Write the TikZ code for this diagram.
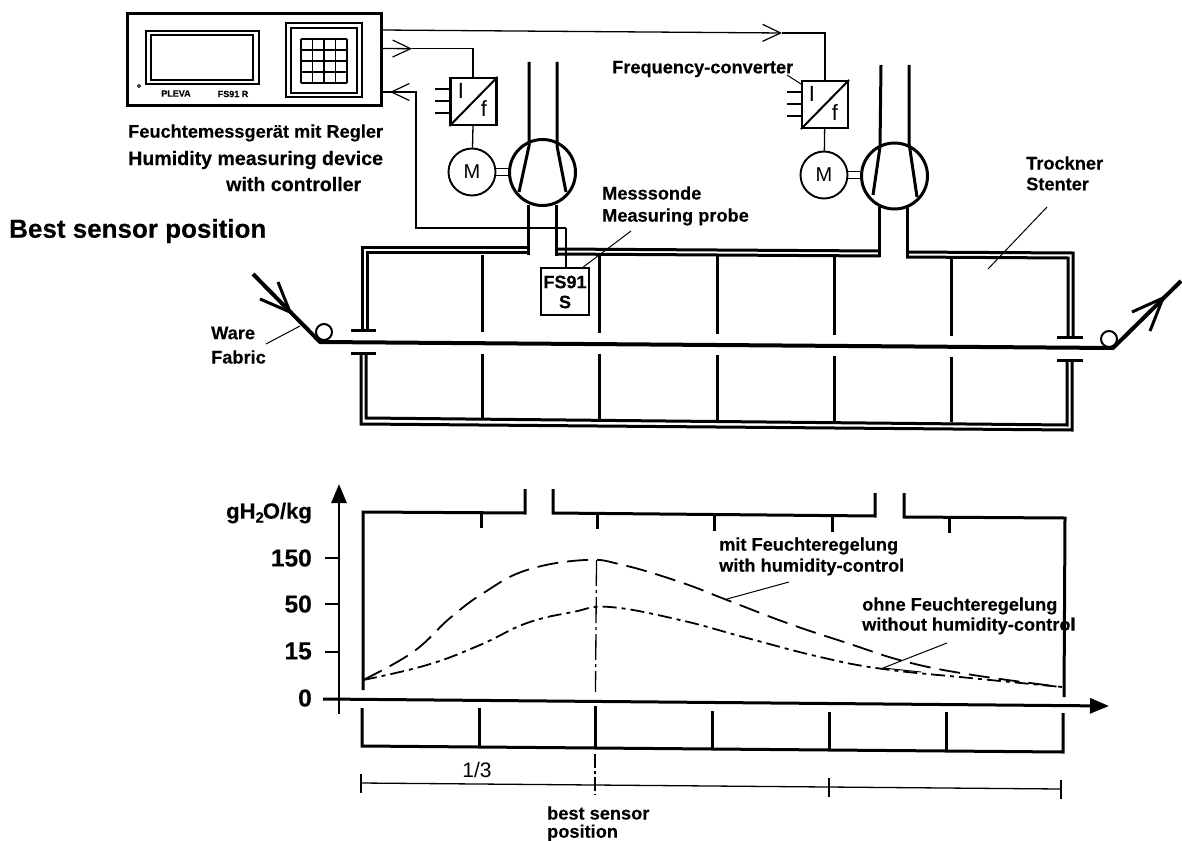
\documentclass[tikz,border=0pt]{standalone}
\usepackage{fontspec}
\setmainfont[BoldFeatures={FakeBold=0.25}]{Liberation Sans}
\usetikzlibrary{arrows.meta}
\tikzset{
  lab/.style={inner sep=0pt,anchor=west,font=\fontsize{18.2}{20}\selectfont\bfseries},
  labw/.style={inner sep=0pt,anchor=west,font=\fontsize{19.6}{21}\selectfont\bfseries},
  tiny/.style={inner sep=0pt,font=\fontsize{9}{10}\selectfont\bfseries},
  axlab/.style={inner sep=0pt,anchor=east,font=\fontsize{24.5}{26}\selectfont\bfseries},
  thin line/.style={line width=1.3pt},
  leader/.style={line width=1pt},
  wall/.style={line width=3pt},
  heavy/.style={line width=3pt},
  prof/.style={line width=3pt},
  signal/.style={line width=1.3pt,-{Straight Barb[length=18pt,width=17pt,line width=1.2pt]}},
  conv/.style={draw,line width=2.2pt,minimum width=46pt,minimum height=47pt,inner sep=0pt},
  motor/.style={draw,circle,line width=1.9pt,minimum size=47pt,inner sep=0pt,font=\fontsize{20}{22}\selectfont},
  fan/.style={draw,circle,line width=3pt,minimum size=66pt,inner sep=0pt},
  letter/.style={inner sep=0pt,font=\fontsize{22}{24}\selectfont},
  axis tip/.style={-{Triangle[length=19pt,width=15pt]}},
  ctrlcurve/.style={line width=1.8pt,dash pattern=on 21pt off 9pt},
  freecurve/.style={line width=1.8pt,dash pattern=on 14pt off 5pt on 4pt off 5pt},
}
\begin{document}
\begin{tikzpicture}[x=1pt,y=-1pt,line cap=butt]
\useasboundingbox (0,0) rectangle (1182,840);
% ---- device
\node[draw,line width=3pt,minimum width=254pt,minimum height=92pt,inner sep=0pt] (dev) at (254,60) {};
\node[draw,line width=1.3pt,minimum width=113pt,minimum height=53pt,inner sep=0pt] (dispo) at (202.5,57.5) {};
\node[draw,line width=1.3pt,minimum width=102pt,minimum height=45pt,inner sep=0pt] (dispi) at (202,57.5) {};
\node[draw,line width=1.2pt,minimum width=76pt,minimum height=74pt,inner sep=0pt] (keyo) at (324,60) {};
\node[draw,line width=1.5pt,minimum width=66pt,minimum height=65pt,inner sep=0pt] (keyi) at (324,60.5) {};
\foreach \x in {301,312.5,324,335.5,347} \draw[line width=1.2pt] (\x,39) -- (\x,83);
\foreach \y in {39,50,61,72,83} \draw[line width=1.2pt] (301,\y) -- (347,\y);
\node[draw,circle,line width=1pt,minimum size=3pt,inner sep=0pt] (led) at (139,86) {};
\node[tiny] (pleva) at (176,93.5) {PLEVA};
\node[tiny] (fsr) at (233,94) {FS91 R};
\node[lab] (t1) at (128,133) {Feuchtemessgerät mit Regler};
\node[labw] (t2) at (128,160) {Humidity measuring device};
\node[labw] (t3) at (226,184) {with controller};
\node[inner sep=0pt,anchor=west,font=\fontsize{26}{28}\selectfont\bfseries] (best) at (9,231) {Best sensor position};
% ---- converters, motors, fans
\node[conv] (c1) at (473.5,101.5) {};
\node[conv] (c2) at (825,104.5) {};
\draw[line width=2pt] (c1.south west) -- (c1.north east);
\draw[line width=2pt] (c2.south west) -- (c2.north east);
\node[letter] (i1) at (461,91) {I};
\node[letter] (f1) at (484,109) {f};
\node[letter] (i2) at (812,94) {I};
\node[letter] (f2) at (835,113) {f};
\foreach \y in {89,101,113} \draw[line width=1.9pt] (435,\y) -- (c1.west |- 0,\y);
\foreach \y in {92,104,116} \draw[line width=1.9pt] (787,\y) -- (c2.west |- 0,\y);
\node[motor] (m1) at (472,172) {M};
\node[motor] (m2) at (824,175) {M};
\node[fan] (f1a) at (542.5,172.5) {};
\node[fan] (f2a) at (894.5,176) {};
\draw[thin line] (c1) -- (m1);
\draw[thin line] (c2) -- (m2);
\draw[line width=1.6pt] ([yshift=-3.5pt]m1.east) -- ([yshift=-3.5pt]m1.east -| f1a.west);
\draw[line width=1.6pt] ([yshift=3.5pt]m1.east) -- ([yshift=3.5pt]m1.east -| f1a.west);
\draw[line width=1.6pt] ([yshift=-3.5pt]m2.east) -- ([yshift=-3.5pt]m2.east -| f2a.west);
\draw[line width=1.6pt] ([yshift=3.5pt]m2.east) -- ([yshift=3.5pt]m2.east -| f2a.west);
% fan ducts
\draw[heavy] (529,62) -- (529,146) -- (519,192);
\draw[heavy] (557,62) -- (557,146) -- (566,192);
\draw[heavy] (881,65) -- (880,147) -- (873,195);
\draw[heavy] (909,65) -- (909,143) -- (917,197);
% ---- signal lines
\coordinate (a1) at (782,33);
\coordinate (a2) at (412,48.7);
\coordinate (a3) at (390,92);
\coordinate (a1s) at (381,30);
\coordinate (a2s) at (381,48.5);
\coordinate (a3s) at (416,92);
\draw[signal] (a1s) -- (a1);
\draw[thin line] (a1) -- (825,33) -- (c2.north -| 825,0);
\draw[signal] (a2s) -- (a2);
\draw[thin line] (a2) -- (473,48.7) -- (c1.north -| 473,0);
% ---- dryer
\draw[wall] (362,330) -- (362,247) -- (529,247);
\draw[wall] (367.5,330) -- (367.5,252.5) -- (529,252.5);
\draw[heavy] (528,205) -- (528,254.5);
\draw[heavy] (556,205) -- (556,255.5);
\draw[wall] (555,249) -- (880,251);
\draw[wall] (555,254) -- (880,256);
\draw[heavy] (879,207) -- (879,257);
\draw[heavy] (907,207) -- (907,258);
\draw[wall] (906,252) -- (1073,253) -- (1073,337);
\draw[wall] (906,257) -- (1068,258) -- (1068,337);
\draw[heavy] (351,330) -- (376,330);
\draw[heavy] (351,353) -- (376,353);
\draw[heavy] (1057,337) -- (1083,337);
\draw[heavy] (1057,360) -- (1083,360);
\draw[wall] (361,353) -- (361,424) -- (1072,430) -- (1072,360);
\draw[wall] (366,353) -- (366,418) -- (1067,425) -- (1067,360);
\foreach \x/\a/\b/\c/\d in {482/255/332/354/418,599/255/333/354/419,717/256/334/355/420,834/256/335/356/421,951/256/336/357/422}{
  \draw[heavy] (\x,\a) -- (\x,\b);
  \draw[heavy] (\x,\c) -- (\x,\d);
}
% fabric
\coordinate (finA) at (253,274);
\coordinate (finB) at (320,342);
\coordinate (foutA) at (1113,348);
\coordinate (foutB) at (1181,281);
\draw[line width=4pt,line join=round] (finA) -- (finB) -- (foutA) -- (foutB);
\draw[line width=3pt,line join=miter] (278,282) -- (290,312) -- (260,299);
\draw[line width=3pt,line join=miter] (1132,312) -- (1163,298) -- (1150,331);
\node[draw,circle,line width=2pt,minimum size=16pt,inner sep=0pt,fill=white] (r1) at (324,332) {};
\node[draw,circle,line width=2pt,minimum size=16pt,inner sep=0pt,fill=white] (r2) at (1109,339) {};
\node[lab] (ware) at (211,333) {Ware};
\node[lab] (fabric) at (211,357) {Fabric};
\coordinate (wl1) at (300,326);
\coordinate (wl2) at (266,344);
\draw[leader] (wl1) -- (wl2);
% probe
\node[draw,line width=2pt,minimum width=48pt,minimum height=47pt,inner sep=0pt,fill=white] (fs) at (565,291.5) {};
\node[inner sep=0pt,font=\fontsize{18}{20}\selectfont\bfseries] (fs1) at (565,282) {FS91};
\node[inner sep=0pt,font=\fontsize{18}{20}\selectfont\bfseries] (fs2) at (565,302) {S};
\draw[thin line] (566,228) -| (a3s) -- (a3);
\draw[signal] (a3s) -- (a3);
\draw[thin line] (a3) -- (dev.east |- a3);
\draw[thin line] (566,228) -- (fs.north -| 566,0);
\coordinate (pl) at (631,231);
\draw[leader] (582,268) -- (pl);
\node[lab] (ms1) at (602,193) {Messsonde};
\node[lab] (ms2) at (602,217) {Measuring probe};
\node[lab] (fc) at (612,69) {Frequency-converter};
\draw[leader] (787,75) -- (801,84);
\node[lab] (tr) at (1026,163) {Trockner};
\node[lab] (st) at (1026,184) {Stenter};
\coordinate (sl1) at (1047,207);
\coordinate (sl2) at (988,269);
\draw[leader] (sl1) -- (sl2);
% ---- chart
\draw[line width=2.8pt,axis tip] (339,714) -- (339,484);
\draw[line width=3pt,axis tip] (323,699) -- (1109,706);
\foreach \y in {558,604,652} \draw[line width=2.8pt] (325,\y) -- (339,\y);
\node[inner sep=0pt,anchor=east,font=\fontsize{22}{24}\selectfont\bfseries] (yl) at (312,513) {gH\raisebox{-4pt}{\fontsize{15}{16}\selectfont 2}\kern-1pt O/kg};
\node[axlab] (v150) at (312,558) {150};
\node[axlab] (v50) at (312,604) {50};
\node[axlab] (v15) at (312,651) {15};
\node[axlab] (v0) at (312,698) {0};
% upper profile
\draw[prof,line join=miter] (363,690) -- (363,512) -- (525,513) -- (525,489);
\draw[prof,line join=miter] (553,489) -- (553,513) -- (875,516) -- (875,493);
\draw[prof,line join=miter] (904,493) -- (904,517) -- (1065,518) -- (1064,697);
\foreach \x/\y in {481/513,597/514,714/516,832/517,949/518} \draw[prof] (\x,\y) -- (\x,\y+15);
% lower profile
\draw[prof,line join=miter] (362,708) -- (362,746) -- (1063,752) -- (1063,713);
\foreach \x/\y/\z in {479/708/747,595/706/748,712/711/749,829/712/750,946/712/751} \draw[prof] (\x,\y) -- (\x,\z);
% dimension
\draw[line width=1.3pt] (361,783) -- (1061,789);
\draw[line width=1.3pt] (361,774) -- (361,793);
\draw[line width=1.3pt] (1061,780) -- (1061,799);
\draw[line width=1.3pt] (829,778) -- (829,797);
\draw[line width=1.3pt,dash pattern=on 26pt off 4pt on 3pt off 4pt] (596.5,560) -- (595.5,692);
\draw[line width=1.3pt,dash pattern=on 14pt off 3pt on 3pt off 3pt] (595,754) -- (595,795);
\node[inner sep=0pt,font=\fontsize{21}{22}\selectfont] (third) at (477,770) {1/3};
\node[lab] (bs1) at (547,813) {best sensor};
\node[lab] (bs2) at (547,833) {position};
% curves
\draw[ctrlcurve] plot[smooth,tension=0.7] coordinates {(363,680) (413,652) (450,618) (485,592) (527,570) (585,560) (623,565) (680,582) (727,600) (787,623) (847,643) (907,662) (973,675) (1062,687)};
\draw[freecurve] plot[smooth,tension=0.7] coordinates {(363,680) (427,665) (480,645) (527,623) (573,612) (610,607) (680,620) (747,638) (820,657) (883,669) (970,678) (1062,687)};
\node[lab] (mit1) at (719,546) {mit Feuchteregelung};
\node[lab] (mit2) at (719,567) {with humidity-control};
\coordinate (ml1) at (789,582);
\coordinate (ml2) at (727,599);
\draw[leader] (ml1) -- (ml2);
\node[lab] (oh1) at (862,606) {ohne Feuchteregelung};
\node[lab] (oh2) at (862,626) {without humidity-control};
\coordinate (ol1) at (947,643);
\coordinate (ol2) at (883,668);
\draw[leader] (ol1) -- (ol2);
\draw[leader] (ol2) -- (921,672);
\end{tikzpicture}
\end{document}
